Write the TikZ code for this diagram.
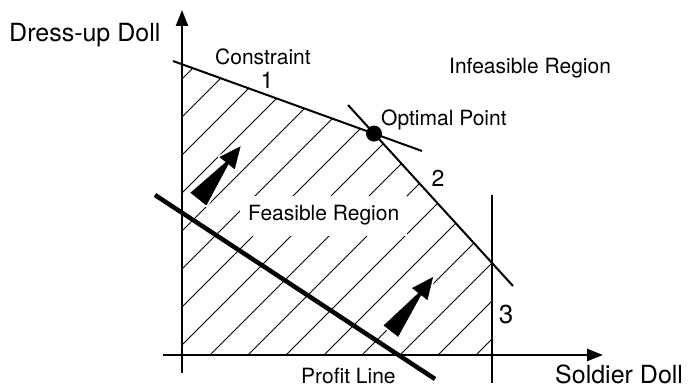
\documentclass[tikz,border=0pt]{standalone}
\usepackage{fontspec}
\setmainfont{TeX Gyre Heros}
\usetikzlibrary{arrows.meta}
\begin{document}
\begin{tikzpicture}[x=1pt,y=-1pt,
  lbl/.style={inner sep=0pt, font=\fontsize{21}{25}\selectfont},
  numlbl/.style={inner sep=0pt, font=\fontsize{23}{27}\selectfont},
  axlbl/.style={inner sep=0pt, font=\fontsize{25}{30}\selectfont},
  axisline/.style={line width=2.4pt, -{Triangle[length=16pt,width=12pt]}},
  cline/.style={line width=2pt},
  hatchline/.style={line width=0.8pt},
  profitline/.style={line width=4.5pt},
  halo/.style={draw=white, line width=4pt, line join=round},
  arrowfill/.style={fill=black, draw=black, line width=0.3pt}
]
\useasboundingbox (0,0) rectangle (691,387);
% key points
\coordinate (O) at (182,355);
\coordinate (ytop) at (182,10);
\coordinate (ybot) at (182,373);
\coordinate (xleft) at (163,355);
\coordinate (xright) at (603,355);
\coordinate (c1a) at (173,61);
\coordinate (c1y) at (182,64.25);
\coordinate (opt) at (374,133.6);
\coordinate (c1b) at (422,151);
\coordinate (c2a) at (348,105);
\coordinate (c2b) at (513,286);
\coordinate (corner) at (492,263);
\coordinate (c3a) at (492,195);
\coordinate (c3b) at (492,383);
\coordinate (c3x) at (492,355);
\coordinate (pa) at (155,195);
\coordinate (pb) at (435,379);
% hatching
\begin{scope}
  \clip (O) -- (c1y) -- (opt) -- (corner) -- (c3x) -- cycle;
  \foreach \c in {-94,-56,...,476}
    \draw[hatchline] ({\c-300},655) -- ({\c+400},-45);
\end{scope}
% direction arrows
\begin{scope}[shift={(198.5,199)}, rotate=51.4]
  \path[halo] (0,-10) -- (46,-1.5) -- (46,-9.5) -- (67,0) -- (46,9.5) -- (46,1.5) -- (0,10) -- cycle;
  \path[arrowfill] (0,-10) -- (46,-1.5) -- (46,-9.5) -- (67,0) -- (46,9.5) -- (46,1.5) -- (0,10) -- cycle;
\end{scope}
\begin{scope}[shift={(391,331)}, rotate=52.1]
  \path[halo] (0,-9) -- (47,-1.5) -- (47,-9.5) -- (68,0) -- (47,9.5) -- (47,1.5) -- (0,9) -- cycle;
  \path[arrowfill] (0,-9) -- (47,-1.5) -- (47,-9.5) -- (68,0) -- (47,9.5) -- (47,1.5) -- (0,9) -- cycle;
\end{scope}
% feasible region label
\node[lbl, fill=white, inner xsep=8pt, inner ysep=10pt, anchor=base west] (feas) at (240,221) {Feasible Region};
% constraint lines
\draw[cline] (c1a) -- (c1b);
\draw[cline] (c2a) -- (c2b);
\draw[cline] (c3a) -- (c3b);
\fill (opt) circle (8);
% profit line
\draw[profitline] (pa) -- (pb);
% axes
\draw[axisline] (ybot) -- (ytop);
\draw[axisline] (xleft) -- (xright);
% labels
\node[axlbl, anchor=base west] (ylab) at (9,42) {Dress-up Doll};
\node[axlbl, anchor=base west] (xlab) at (555,383) {Soldier Doll};
\node[lbl, anchor=base west] (cons) at (215,65) {Constraint};
\node[numlbl, anchor=base] (n1) at (267,89) {1};
\node[numlbl, anchor=base] (n2) at (438,187) {2};
\node[numlbl, font=\fontsize{26}{30}\selectfont, anchor=base] (n3) at (506,324) {3};
\node[lbl, anchor=base west] (inf) at (449,74) {Infeasible Region};
\node[lbl, anchor=base west] (optl) at (381,126) {Optimal Point};
\node[lbl, anchor=base west] (prof) at (301,383) {Profit Line};
\end{tikzpicture}
\end{document}
